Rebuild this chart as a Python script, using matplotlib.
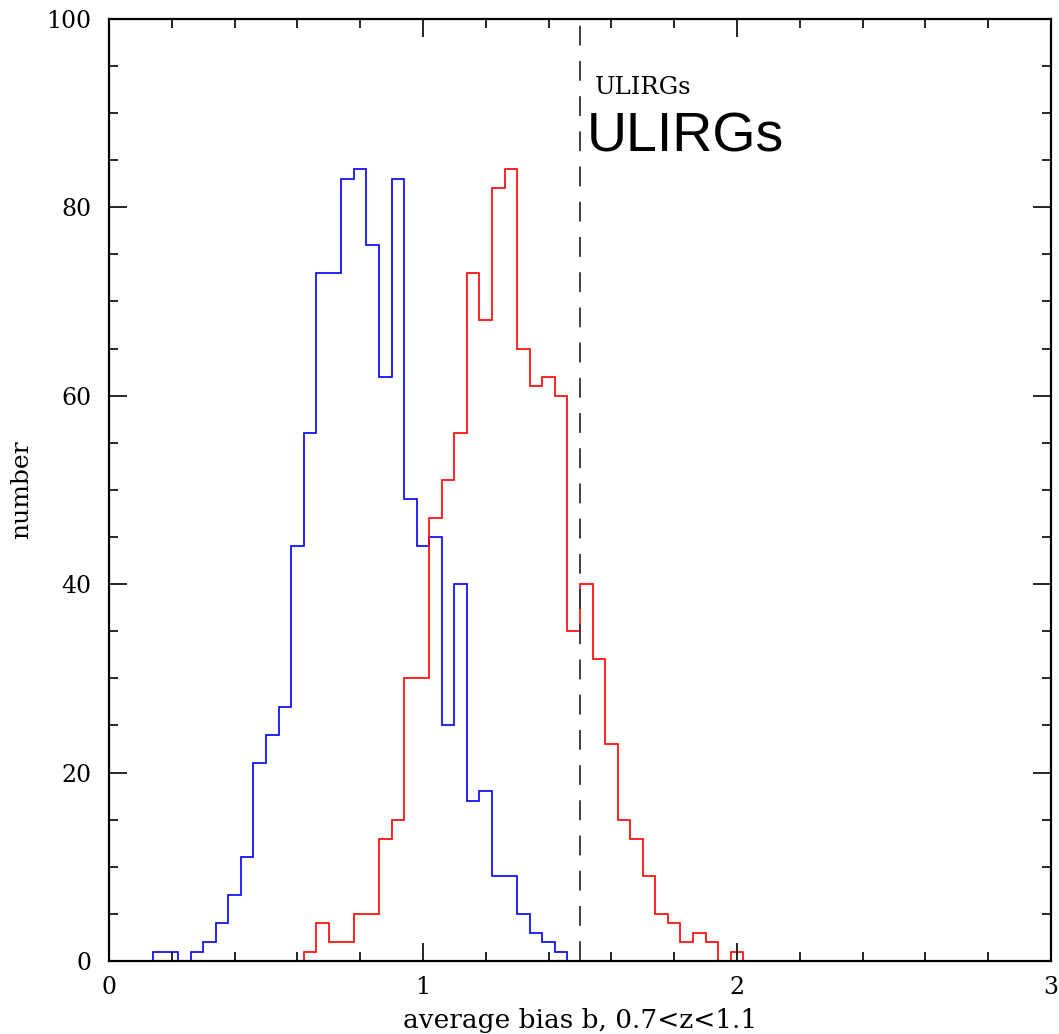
import numpy as np
import matplotlib
matplotlib.use("Agg")
import matplotlib.pyplot as plt
from matplotlib.ticker import MultipleLocator

# histogram bins: width 0.04, centred on multiples of 0.04
bin_width = 0.04
edges = np.round(np.arange(-0.02, 3.02 + 1e-9, bin_width), 2)

# blue sample: counts from bin edge 0.14 upward
blue_start = 0.14
blue_counts = [1, 1, 0, 1, 2, 4, 7, 11, 21, 24, 27, 44, 56, 73, 73, 83, 84,
               76, 62, 83, 49, 44, 45, 25, 40, 17, 18, 9, 9, 5, 3, 2, 1]

# red sample: counts from bin edge 0.62 upward
red_start = 0.62
red_counts = [1, 4, 2, 2, 5, 5, 13, 15, 30, 30, 47, 51, 56, 73, 68, 82, 84,
              65, 61, 62, 60, 35, 40, 32, 23, 15, 13, 9, 5, 4, 2, 3, 2, 0, 1]

cut_value = 1.5
label_text = "ULIRGs"


def full_counts(start, counts):
    out = np.zeros(len(edges) - 1)
    i0 = int(round((start - edges[0]) / bin_width))
    out[i0:i0 + len(counts)] = counts
    return out


serif = "DejaVu Serif"

fig = plt.figure(figsize=(10.59, 10.34), dpi=100)
ax = fig.add_axes([0.1029, 0.0706, 0.8895, 0.9113])

ax.stairs(full_counts(blue_start, blue_counts), edges, color="#0000ff", lw=1.2, baseline=0)
ax.stairs(full_counts(red_start, red_counts), edges, color="#ff0000", lw=1.2, baseline=0)
ax.axvline(cut_value, color="#333333", lw=1.3, dashes=(11, 8.5))

ax.text(1.548, 92.0, label_text, fontsize=17.5, family=serif, va="baseline")
ax.text(1.521, 85.9, label_text, fontsize=40, family="Liberation Sans", va="baseline")

ax.set_xlim(0, 3)
ax.set_ylim(0, 100)
ax.xaxis.set_major_locator(MultipleLocator(1))
ax.xaxis.set_minor_locator(MultipleLocator(0.2))
ax.yaxis.set_major_locator(MultipleLocator(20))
ax.yaxis.set_minor_locator(MultipleLocator(5))
ax.tick_params(which="both", direction="in", top=True, right=True, width=1.2, colors="black")
ax.tick_params(which="major", length=13, pad=11, labelsize=17)
ax.tick_params(which="minor", length=6.3)
for lab in ax.get_xticklabels() + ax.get_yticklabels():
    lab.set_family(serif)
ax.tick_params(axis="y", which="major", pad=12.5)
for s in ax.spines.values():
    s.set_linewidth(1.6)

ax.set_xlabel("average bias b, 0.7<z<1.1", fontsize=19, family=serif, labelpad=6)
ax.set_ylabel("number", fontsize=18, family=serif)
ax.yaxis.set_label_coords(-0.081, 0.5)

fig.savefig("out.png", dpi=100)
